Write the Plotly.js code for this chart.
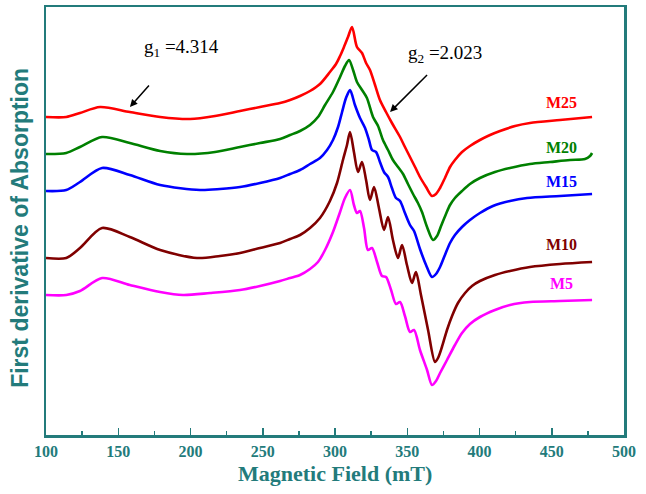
<!DOCTYPE html>
<html>
<head>
<meta charset="utf-8">
<script src="https://cdn.plot.ly/plotly-3.0.1.min.js"></script>
<style>html,body{margin:0;padding:0;background:#fff;}#chart{width:646px;height:494px;}</style>
</head>
<body>
<div id="chart"></div>
<script>
// Magnetic field (mT) and first-derivative signal (a.u.) for each sample
const seriesNames = ["M25", "M20", "M15", "M10", "M5"];
const seriesColors = ["#ff0000", "#008000", "#0000ff", "#800000", "#ff00ff"];

const fieldM25 = [100,114,123.5,137.4,158,179,199.7,217,234.3,248.1,262,268.9,275.8,282.7,289.6,296.5,300.7,303.5,306.2,309,311.8,315.2,318.7,321.5,324.2,327.7,331.1,335.3,339.4,345,348.4,351.9,355.4,358.8,363,367.1,369.9,372.7,376.1,379.6,383,387.9,393.4,400.3,407.3,414.2,424.6,434.9,455.7,477.9];
const signalM25 = [324,324,328,334,329,324,322,325,330,334,338,341,345,350,357,369,377,385,394,404,414,394,388,378,371,356,341,329,318,304,294,284,274,264,254,245,247,253,263,274,281,289,295,301,306,310,315,318,321,324];

const fieldM20 = [100,114,123.5,138.8,158,179,197.6,217,234.3,248.1,262,268.9,275.8,282.7,288.2,293.1,298.6,303.5,306.9,309.7,312.5,315.2,318.7,322.1,326.3,329.8,333.2,336.7,340.1,343.6,347.1,350.5,354,357.4,360.2,363.7,367.8,370.6,373.4,376.8,379.6,383,387.9,393.4,400.3,410.7,421.1,434.9,448.8,462.6,473,476.5,477.9];
const signalM20 = [287,288,294,304,298,290,287,289,294,298,302,306,310,316,324,336,349,364,375,381,371,359,351,343,324,315,301,291,281,274,267,257,247,238,229,214,201,205,215,227,236,243,250,257,263,269,273,277,279,281,282,285,288];

const fieldM15 = [100,114,123.5,138.8,158,179,206.6,220.4,234.3,248.1,262,268.9,275.8,282.7,289.6,294.5,298.6,302.1,304.9,307.6,310.4,313.8,317.3,320.8,323.5,325.6,328.4,331.1,333.9,336.7,339.4,342.2,345,348.4,351.9,354.7,358.8,363,367.1,369.9,372.7,376.1,379.6,383,387.9,393.4,400.3,409.3,421.1,432.9,455.7,477.9];
const signalM15 = [250,251,259,273,266,256,251,252,254,258,263,267,271,277,283,291,301,314,329,343,351,336,323,313,301,291,289,279,269,264,253,243,240,228,216,210,192,176,164,167,174,186,198,206,214,221,228,235,240,243,245,247];

const fieldM10 = [100,114,123.5,138.8,158,179,204.5,220.4,234.3,248.1,262,268.9,275.8,282.7,289.6,296.5,301.4,305.5,308.3,310.4,313.1,315.9,318.7,321.5,324.2,327,330.4,333.9,336.7,340.1,343.6,346.4,349.8,353.3,356,359.5,364.4,369.2,371.3,374,377.5,381,385.1,390,394.8,400.3,410.7,421.1,434.9,455.7,477.9];
const signalM10 = [183,183,193,213,204,191,183,185,188,193,198,202,206,213,223,240,258,281,296,309,289,269,279,261,241,254,233,211,224,201,183,196,176,158,169,146,111,79,83,94,111,125,138,148,155,160,166,170,174,177,179];

const fieldM5 = [100,114,123.5,138.8,158,179,194.8,213.5,234.3,248.1,262,268.9,275.8,282.7,288.2,293.1,298.6,303.5,306.9,310.4,313.1,315.2,317.3,320.1,322.8,325.6,329.1,332.5,335.3,338.8,342.2,345,348.4,351.9,354.7,358.8,363.7,367.1,369.9,372.7,377.5,383,387.9,393.4,400.3,410.7,421.1,434.9,455.7,477.9];
const signalM5 = [146,146,150,163,156,149,146,148,151,155,160,163,166,172,179,191,209,229,243,251,236,228,230,213,191,193,179,165,164,151,137,139,125,109,111,91,71,56,60,68,81,96,108,117,124,131,136,139,140,141];

const xTickVals = [100,150,200,250,300,350,400,450,500];
const xTickText = ["100","150","200","250","300","350","400","450","500"];

const fields = [fieldM25, fieldM20, fieldM15, fieldM10, fieldM5];
const signals = [signalM25, signalM20, signalM15, signalM10, signalM5];

const teal = "#237b7b";
const traces = seriesNames.map((n, i) => ({
  type: "scatter", mode: "lines", name: n,
  x: fields[i], y: signals[i],
  line: {color: seriesColors[i], width: 2.6, shape: "spline", smoothing: 0.8},
  showlegend: false, hoverinfo: "skip"
}));

// series label positions (layout only)
const labelPos = [[456.4,339],[456.4,294],[456.4,260],[456.4,197],[456.4,158]];
const annotations = seriesNames.map((n, i) => ({
  x: labelPos[i][0], y: labelPos[i][1], xref: "x", yref: "y",
  text: "<b>" + n + "</b>", showarrow: false,
  font: {family: "Liberation Serif", size: 16, color: seriesColors[i]}
}));
annotations.push({
  x: 158.1, y: 334, xref: "x", yref: "y", text: " ", showarrow: true,
  ax: 22, ay: -25, arrowhead: 2, arrowsize: 1, arrowwidth: 1.5, arrowcolor: "#000"
});
annotations.push({
  x: 338.1, y: 329, xref: "x", yref: "y", text: " ", showarrow: true,
  ax: 40, ay: -40, arrowhead: 2, arrowsize: 1, arrowwidth: 1.5, arrowcolor: "#000"
});
annotations.push({
  x: 194, y: 393, xref: "x", yref: "y", text: "g<sub>1</sub> =4.314", showarrow: false,
  font: {family: "Liberation Serif", size: 19, color: "#000"}
});
annotations.push({
  x: 376, y: 387, xref: "x", yref: "y", text: "g<sub>2</sub> =2.023", showarrow: false,
  font: {family: "Liberation Serif", size: 19, color: "#000"}
});
// axis titles
annotations.push({
  x: 0.5, y: -0.089, xref: "paper", yref: "paper", yanchor: "middle",
  text: "<b>Magnetic Field (mT)</b>", showarrow: false,
  font: {family: "Liberation Serif", size: 22, color: teal}
});
annotations.push({
  x: -0.045, y: 0.484, xref: "paper", yref: "paper", xanchor: "center", yanchor: "middle",
  textangle: -90, text: "<b>First derivative of Absorption</b>", showarrow: false,
  font: {family: "Liberation Sans", size: 23, color: teal}
});

const layout = {
  width: 646, height: 494,
  margin: {l: 46, r: 22, t: 7, b: 59},
  paper_bgcolor: "#fff", plot_bgcolor: "#fff",
  xaxis: {
    range: [100, 500], tickvals: xTickVals, ticktext: xTickText,
    ticks: "inside", ticklen: 7, tickwidth: 1.5, tickcolor: teal,
    minor: {dtick: 25, ticks: "inside", ticklen: 4, tickwidth: 1.5, tickcolor: teal, showgrid: false},
    showgrid: false, zeroline: false,
    showline: true, mirror: true, linecolor: teal, linewidth: 2.5,
    tickfont: {family: "Liberation Serif", size: 16, color: teal, weight: "bold"},
    ticklabelstandoff: 0
  },
  yaxis: {
    range: [6, 434], showticklabels: false, ticks: "",
    showgrid: false, zeroline: false,
    showline: true, mirror: true, linecolor: teal, linewidth: 2.5
  },
  annotations: annotations
};

Plotly.newPlot("chart", traces, layout, {staticPlot: true, displayModeBar: false});
</script>
</body>
</html>
